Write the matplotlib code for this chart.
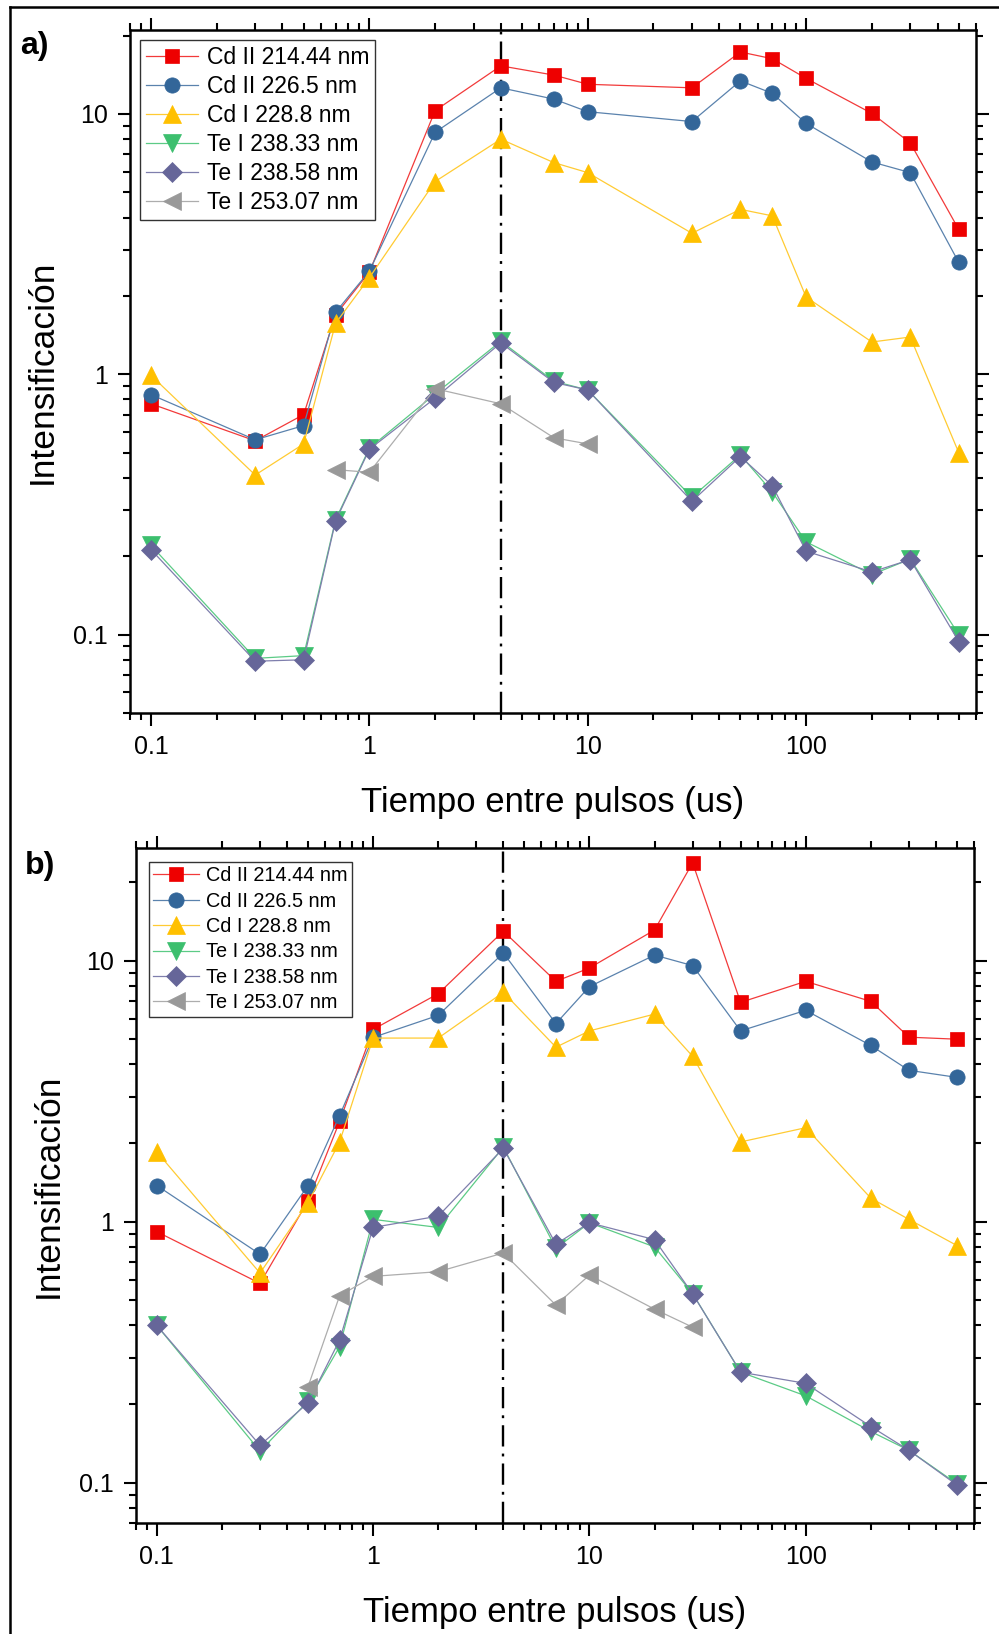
import matplotlib
matplotlib.use("Agg")
import matplotlib.pyplot as plt
from matplotlib.lines import Line2D
from matplotlib.ticker import LogLocator, NullFormatter, FixedLocator

plt.rcParams['font.family'] = ['Liberation Sans', 'DejaVu Sans']

# ---------------- data ----------------
labels = ["Cd II 214.44 nm", "Cd II 226.5 nm", "Cd I 228.8 nm",
          "Te I 238.33 nm", "Te I 238.58 nm", "Te I 253.07 nm"]

# panel a) pulse delays (us)
t_a = [0.1, 0.3, 0.5, 0.7, 1, 2, 4, 7, 10, 30, 50, 70, 100, 200, 300, 500]
cd2_214_a = [0.77, 0.555, 0.70, 1.69, 2.47, 10.3, 15.3, 14.1, 13.0, 12.6, 17.3, 16.3, 13.7, 10.05, 7.74, 3.6]
cd2_226_a = [0.835, 0.56, 0.635, 1.73, 2.49, 8.5, 12.6, 11.4, 10.2, 9.35, 13.4, 12.0, 9.2, 6.54, 5.95, 2.69]
cd1_228_a = [0.99, 0.41, 0.54, 1.57, 2.35, 5.5, 8.0, 6.5, 5.95, 3.48, 4.3, 4.06, 1.98, 1.33, 1.39, 0.50]
te_238_33_a = [0.22, 0.081, 0.083, 0.276, 0.52, 0.84, 1.34, 0.94, 0.87, 0.337, 0.49, 0.353, 0.227, 0.17, 0.195, 0.10]
te_238_58_a = [0.212, 0.079, 0.080, 0.273, 0.515, 0.81, 1.32, 0.93, 0.87, 0.325, 0.483, 0.373, 0.209, 0.174, 0.194, 0.094]
t_a_te253 = [0.7, 1, 2, 4, 7, 10]
te_253_a = [0.43, 0.42, 0.88, 0.77, 0.57, 0.54]

# panel b) pulse delays (us)
t_b = [0.1, 0.3, 0.5, 0.7, 1, 2, 4, 7, 10, 20, 30, 50, 100, 200, 300, 500]
cd2_214_b = [0.915, 0.58, 1.2, 2.42, 5.45, 7.47, 12.97, 8.33, 9.37, 13.1, 23.7, 6.92, 8.33, 6.98, 5.09, 5.0]
cd2_226_b = [1.375, 0.75, 1.375, 2.55, 5.08, 6.17, 10.7, 5.74, 7.95, 10.5, 9.57, 5.38, 6.45, 4.73, 3.8, 3.57]
cd1_228_b = [1.85, 0.635, 1.18, 2.02, 5.05, 5.05, 7.56, 4.66, 5.38, 6.24, 4.3, 2.02, 2.29, 1.23, 1.02, 0.81]
te_238_33_b = [0.40, 0.132, 0.205, 0.332, 1.02, 0.95, 1.93, 0.79, 0.99, 0.80, 0.53, 0.265, 0.215, 0.157, 0.133, 0.099]
te_238_58_b = [0.40, 0.139, 0.202, 0.352, 0.95, 1.05, 1.91, 0.82, 0.99, 0.853, 0.529, 0.265, 0.24, 0.164, 0.133, 0.098]
t_b_te253 = [0.5, 0.7, 1, 2, 4, 7, 10, 20, 30]
te_253_b = [0.233, 0.52, 0.617, 0.643, 0.758, 0.479, 0.624, 0.462, 0.394]

delay_mark = 4  # us, reference delay line

x_ticks = [0.1, 1, 10, 100]
x_ticklabels = ["0.1", "1", "10", "100"]
y_ticks = [0.1, 1, 10]
y_ticklabels = ["0.1", "1", "10"]

# ---------------- styles ----------------
marker_colors = ["#EE0000", "#336699", "#FFC000", "#3CBF6E", "#666699", "#999999"]
line_colors = ["#F23A3A", "#5A82AD", "#FFCB33", "#5CCB86", "#7F7FAD", "#ADADAD"]
markers = ["s", "o", "^", "v", "D", "<"]
msizes = [10, 11, 13, 13, 10, 13]

fig = plt.figure(figsize=(9.99, 16.34), dpi=100)

ax_a = fig.add_axes([0.130, 0.5637, 0.847, 0.4179])
ax_b = fig.add_axes([0.136, 0.0679, 0.839, 0.4131])

panels = [
    (ax_a, [(t_a, cd2_214_a), (t_a, cd2_226_a), (t_a, cd1_228_a),
            (t_a, te_238_33_a), (t_a, te_238_58_a), (t_a_te253, te_253_a)],
     (0.08, 600), (0.05, 21), 16.5, 0.26, (0.0115, 0.985), 0.27, 10),
    (ax_b, [(t_b, cd2_214_b), (t_b, cd2_226_b), (t_b, cd1_228_b),
            (t_b, te_238_33_b), (t_b, te_238_58_b), (t_b_te253, te_253_b)],
     (0.08, 600), (0.07, 27), 14.3, 0.32, (0.0155, 0.9793), 0.22, 10),
]

for ax, series, xlim, ylim, leg_fs, leg_sp, leg_anchor, leg_bp, ylpad in panels:
    for i, (xs, ys) in enumerate(series):
        ax.plot(xs, ys, color=line_colors[i], lw=0.9, marker=markers[i],
                ms=msizes[i], mfc=marker_colors[i], mec=marker_colors[i],
                mew=0.5, label=labels[i], zorder=3 + i)
    ax.axvline(delay_mark, color="black", lw=1.7,
               linestyle=(0, (9, 3, 1.2, 3)), zorder=2)

    ax.set_xscale("log")
    ax.set_yscale("log")
    ax.set_xlim(*xlim)
    ax.set_ylim(*ylim)

    ax.xaxis.set_major_locator(FixedLocator(x_ticks))
    ax.set_xticklabels(x_ticklabels)
    ax.yaxis.set_major_locator(FixedLocator(y_ticks))
    ax.set_yticklabels(y_ticklabels)
    for axis in (ax.xaxis, ax.yaxis):
        axis.set_minor_locator(LogLocator(base=10, subs=range(2, 10), numticks=20))
        axis.set_minor_formatter(NullFormatter())

    ax.tick_params(which="both", direction="out", top=True, right=True,
                   labeltop=False, labelright=False, width=1.5)
    ax.tick_params(which="major", length=9, labelsize=18, pad=7)
    ax.tick_params(which="minor", length=5)
    for sp in ax.spines.values():
        sp.set_linewidth(1.8)

    ax.set_xlabel("Tiempo entre pulsos (us)", fontsize=25, labelpad=19)
    ax.set_ylabel("Intensificación", fontsize=25.5, labelpad=ylpad)

    leg = ax.legend(loc="upper left", bbox_to_anchor=leg_anchor,
                    borderaxespad=0, fontsize=leg_fs, frameon=True,
                    fancybox=False, framealpha=1, edgecolor="#333333",
                    handlelength=2.3, handletextpad=0.35, labelspacing=leg_sp,
                    borderpad=leg_bp, markerscale=1.0)
    leg.get_frame().set_linewidth(1.0)

fig.text(0.020, 0.981, "a)", fontsize=23, fontweight="bold", va="top", ha="left")
fig.text(0.025, 0.479, "b)", fontsize=23, fontweight="bold", va="top", ha="left")

# outer frame (left and top edges)
fig.add_artist(Line2D([0.0105, 0.0105], [0.0, 0.9960], transform=fig.transFigure,
                      color="black", lw=1.8))
fig.add_artist(Line2D([0.0105, 1.0], [0.9960, 0.9960], transform=fig.transFigure,
                      color="black", lw=1.8))

fig.savefig("out.png", dpi=100)
